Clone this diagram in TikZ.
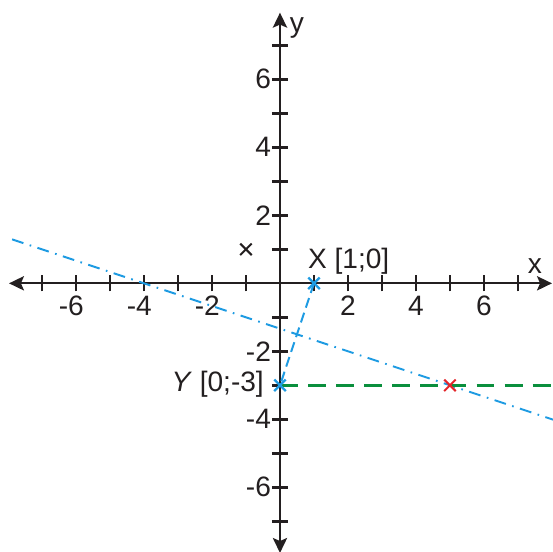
\documentclass[tikz,border=0pt]{standalone}
\usepackage{fontspec}
\setmainfont{Liberation Sans}
\usetikzlibrary{arrows.meta,calc}
\definecolor{ink}{HTML}{231F20}
\definecolor{lineblue}{HTML}{1E9BE2}
\definecolor{levelgreen}{HTML}{0A8F3D}
\definecolor{markred}{HTML}{E3262B}
\tikzset{
  axis/.style={
    draw=ink,
    line width=1.7pt,
    {Stealth[length=4.4mm,width=4.2mm,inset=0.9mm]}-{Stealth[length=4.4mm,width=4.2mm,inset=0.9mm]}
  },
  axistick/.style={draw=ink, line width=2.3pt},
  xnum/.style={anchor=north, inner sep=0pt},
  ynum/.style={anchor=east, inner sep=0pt},
  bisector/.style={
    draw=lineblue,
    line width=1.6pt,
    dash pattern=on 10pt off 5.5pt on 1.4pt off 5.5pt
  },
  segment/.style={
    draw=lineblue,
    line width=1.7pt,
    dash pattern=on 8.5pt off 4.5pt
  },
  level/.style={
    draw=levelgreen,
    line width=2.9pt,
    dash pattern=on 15pt off 8.5pt
  },
  cross/.pic={
    \draw (-0.17,-0.17) -- (0.17,0.17) (-0.17,0.17) -- (0.17,-0.17);
  }
}

\begin{document}
\begin{tikzpicture}[
  font=\fontsize{23.5}{27}\selectfont,
  every node/.style={text=ink}
]
\useasboundingbox (-8.235,-7.90) rectangle (8.03,8.333);

% ---- Points ----
\coordinate (O) at (0,0);
\coordinate (X) at (1,0);
\coordinate (Y) at (0,-3);
\coordinate (R) at (5,-3);
\coordinate (K) at (-1,1);
\coordinate (xL) at (-7.97,0);
\coordinate (xR) at (8.0,0);
\coordinate (yB) at (0,-7.93);
\coordinate (yT) at (0,7.96);
\coordinate (bisL) at (-7.88,1.293);
\coordinate (bisR) at (8.1,-4.033);
\coordinate (levR) at (8.05,-3);

% ---- Axes ----
\draw[axis] (xL) -- (xR);
\draw[axis] (yB) -- (yT);
\foreach \t in {-7,...,-1,1,2,...,7} {
  \draw[axistick] (\t,-0.24) -- (\t,0.24);
  \draw[axistick] (-0.24,\t) -- (0.24,\t);
}
\foreach \v in {2,4,6} {
  \node[xnum] (xp\v) at (\v,-0.37) {\v};
  \node[xnum] (xm\v) at (-\v,-0.37) {\llap{-}\v};
  \node[ynum] (yp\v) at (-0.26,\v) {\v};
  \node[ynum] (ym\v) at (-0.26,-\v) {-\v};
}
\node[anchor=base] (xname) at (7.5,0.30) {x};
\node[anchor=base] (yname) at (0.5,7.39) {y};

% ---- Lines ----
\draw[bisector] (bisL) -- (bisR);
\draw[level] (Y) -- (levR);
\draw[segment] (X) -- (Y);

% ---- Marks and labels ----
\pic[draw=ink, line width=1.7pt] at (K) {cross};
\pic[draw=lineblue, line width=1.9pt] at (X) {cross};
\pic[draw=lineblue, line width=1.9pt] at (Y) {cross};
\pic[draw=markred, line width=1.7pt] at (R) {cross};
\node[anchor=base west, inner sep=0pt] (Xlabel) at ($(X)+(-0.18,0.45)$) {X [1;0]};
\node[anchor=base east, inner sep=0pt] (Ylabel) at ($(Y)+(-0.47,-0.17)$) {\textit{Y} [0;-3]};

\end{tikzpicture}
\end{document}
